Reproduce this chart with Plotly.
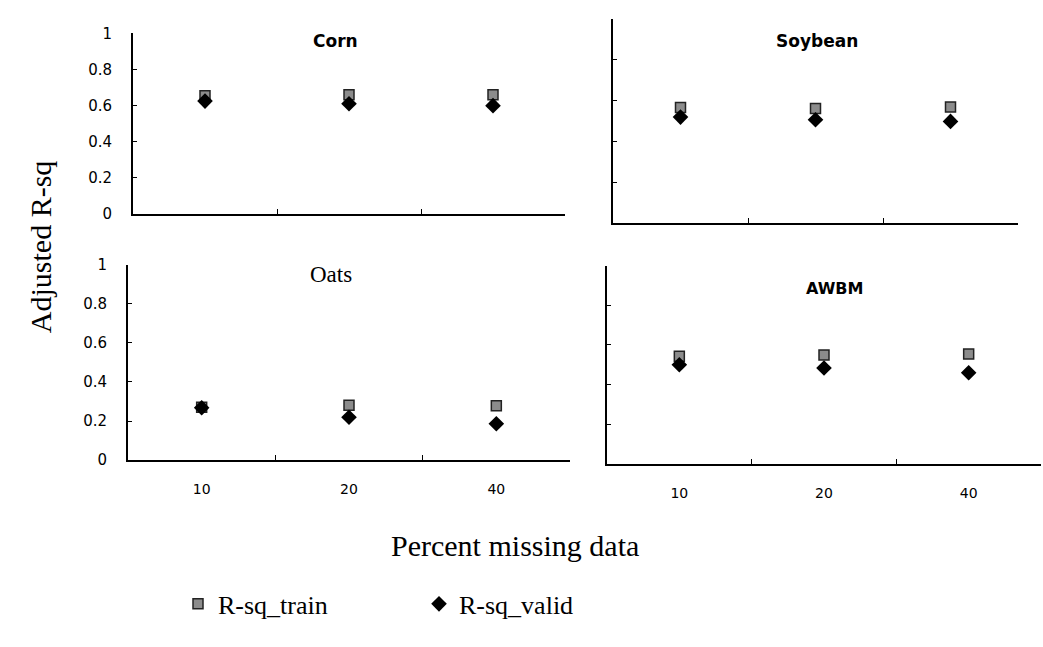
import plotly.graph_objects as go

categories = ["10", "20", "40"]
panels = ["Corn", "Soybean", "Oats", "AWBM"]
train = {
    "Corn":    [0.655, 0.66, 0.66],
    "Soybean": [0.565, 0.56, 0.567],
    "Oats":    [0.27, 0.28, 0.278],
    "AWBM":    [0.543, 0.55, 0.554],
}
valid = {
    "Corn":    [0.625, 0.61, 0.60],
    "Soybean": [0.518, 0.505, 0.497],
    "Oats":    [0.268, 0.219, 0.186],
    "AWBM":    [0.50, 0.484, 0.46],
}
y_ticks = [0, 0.2, 0.4, 0.6, 0.8, 1]
y_ticktext = ["0", "0.2", "0.4", "0.6", "0.8", "1"]

W, H = 1043, 647
SANS = "DejaVu Sans, Arial"
SERIF = "Liberation Serif, Times New Roman"
# pixel boxes (left, right, top, bottom) for each panel
boxes = {
    "Corn":    (133, 565, 25, 211),
    "Soybean": (613, 1018, 10, 220),
    "Oats":    (128, 570, 263, 464),
    "AWBM":    (607, 1041, 264, 468),
}
title_pos = {
    "Corn":    (0.468, 0.957, "<b>Corn</b>", SANS, 17),
    "Soybean": (0.504, 0.89, "<b>Soybean</b>", SANS, 17),
    "Oats":    (0.46, 0.95, "Oats", SERIF, 23),
    "AWBM":    (0.525, 0.887, "<b>AWBM</b>", SANS, 16),
}

fig = go.Figure()
layout = {}
annotations = []
for i, p in enumerate(panels):
    n = "" if i == 0 else str(i + 1)
    l, r, t, b = boxes[p]
    xd = [l / W, r / W]
    yd = [1 - b / H, 1 - t / H]
    fig.add_trace(go.Scatter(
        x=categories, y=train[p], mode="markers", name="R-sq_train",
        marker=dict(symbol="square", size=10, color="#8c8c8c",
                    line=dict(color="#222222", width=1.5)),
        xaxis="x" + n, yaxis="y" + n, showlegend=(i == 0)))
    fig.add_trace(go.Scatter(
        x=categories, y=valid[p], mode="markers", name="R-sq_valid",
        marker=dict(symbol="diamond", size=12, color="#000000"),
        xaxis="x" + n, yaxis="y" + n, showlegend=(i == 0)))
    left_col = p in ("Corn", "Oats")
    bottom_row = p in ("Oats", "AWBM")
    layout["xaxis" + n] = dict(
        domain=xd, anchor="y" + n, type="category", categoryorder="array",
        categoryarray=categories, range=[-0.5, 2.5],
        showline=True, linecolor="black", linewidth=2,
        ticks="inside", tickson="boundaries", ticklen=5, tickcolor="black",
        showgrid=False, zeroline=False,
        showticklabels=bottom_row, ticklabelstandoff=15,
        tickfont=dict(family=SANS, size=14, color="black"))
    layout["yaxis" + n] = dict(
        domain=yd, anchor="x" + n, range=[0, 1],
        tickvals=y_ticks, ticktext=y_ticktext,
        showline=True, linecolor="black", linewidth=2,
        ticks="inside", ticklen=4, tickcolor="black",
        showgrid=False, zeroline=False,
        showticklabels=left_col, ticklabelstandoff=16,
        tickfont=dict(family=SANS, size=15, color="black"))
    tx, ty, txt, fam, sz = title_pos[p]
    annotations.append(dict(
        text=txt, xref="x" + n + " domain", yref="y" + n + " domain",
        x=tx, y=ty, showarrow=False, xanchor="center", yanchor="middle",
        font=dict(family=fam, size=sz, color="black")))

annotations.append(dict(
    text="Adjusted R-sq", xref="paper", yref="paper", x=40 / W, y=1 - 245 / H,
    textangle=-90, showarrow=False, xanchor="center", yanchor="middle",
    font=dict(family=SERIF, size=30, color="black")))
annotations.append(dict(
    text="Percent missing data", xref="paper", yref="paper", x=515 / W, y=1 - 552 / H,
    showarrow=False, xanchor="center", yanchor="middle",
    font=dict(family=SERIF, size=30, color="black")))

fig.update_layout(
    width=W, height=H,
    margin=dict(l=0, r=0, t=0, b=0),
    paper_bgcolor="white", plot_bgcolor="white",
    annotations=annotations,
    showlegend=True,
    legend=dict(orientation="h", x=178 / W, y=1 - 612 / H, xanchor="left", yanchor="middle",
                font=dict(family=SERIF, size=26, color="black"),
                itemwidth=30, tracegroupgap=0, entrywidth=196,
                bgcolor="rgba(0,0,0,0)"),
    **layout,
)

fig.write_html("out.html",
               config={"displayModeBar": False},
               post_script="document.body.style.margin='0';document.body.style.overflow='hidden';")
